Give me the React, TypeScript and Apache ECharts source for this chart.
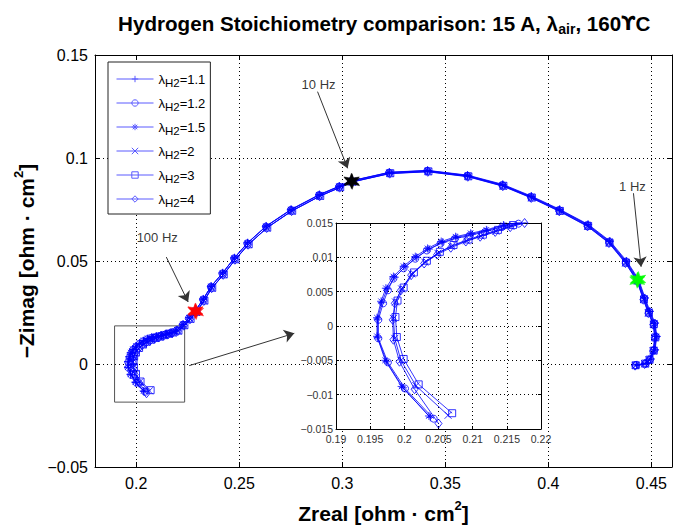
import React, { useEffect, useRef } from "react";
import * as echarts from "echarts";

// ---------- data ----------
const seriesNames = ["1.1", "1.2", "1.5", "2", "3", "4"];

const lambda11 = [
  [0.2038, -0.0133], [0.1998, -0.009], [0.1974, -0.0052], [0.1961, -0.0017], [0.1961, 0.001], [0.1967, 0.0034],
  [0.1975, 0.0054], [0.1986, 0.0071], [0.2001, 0.0086], [0.2018, 0.01], [0.2036, 0.0112], [0.2056, 0.0122],
  [0.2077, 0.0129], [0.2099, 0.0134], [0.2121, 0.0139], [0.2146, 0.0146], [0.217, 0.0152],
  [0.2198, 0.0166], [0.2228, 0.0193], [0.2258, 0.0225], [0.2288, 0.026], [0.2326, 0.0316], [0.2364, 0.0378],
  [0.242, 0.0443], [0.2477, 0.0516], [0.2541, 0.0589], [0.2631, 0.067], [0.2752, 0.0751], [0.2889, 0.0823],
  [0.2986, 0.0864], [0.3046, 0.089], [0.3229, 0.0931], [0.3414, 0.094], [0.3608, 0.0917], [0.3779, 0.0872],
  [0.3918, 0.0815], [0.4055, 0.0751], [0.4193, 0.0678], [0.4299, 0.0597], [0.438, 0.05], [0.4437, 0.0413],
  [0.4469, 0.0321], [0.4493, 0.0256], [0.4518, 0.0199], [0.4526, 0.0134], [0.4518, 0.0069], [0.4497, 0.0025],
  [0.4476, 0.0004], [0.443, -0.0004],
];
const lambda12 = [
  [0.2043, -0.0135], [0.2001, -0.0091], [0.1976, -0.0053], [0.1962, -0.0018], [0.1962, 0.0009], [0.1969, 0.0033],
  [0.1976, 0.0052], [0.1984, 0.0069], [0.1999, 0.0084], [0.2016, 0.0098], [0.2033, 0.011], [0.2053, 0.012],
  [0.2074, 0.0127], [0.2096, 0.0132], [0.2118, 0.0137], [0.2143, 0.0144], [0.2167, 0.0149],
  [0.2195, 0.0163], [0.2225, 0.019], [0.2255, 0.0222], [0.2286, 0.0257], [0.2324, 0.0313], [0.2362, 0.0375],
  [0.2418, 0.044], [0.2475, 0.0513], [0.2539, 0.0586], [0.2629, 0.0667], [0.275, 0.0748], [0.2887, 0.082],
  [0.2984, 0.0861], [0.3044, 0.0888], [0.3227, 0.0929], [0.3413, 0.0938], [0.3607, 0.0914], [0.3777, 0.0869],
  [0.3915, 0.0812], [0.4052, 0.0748], [0.419, 0.0675], [0.4295, 0.0594], [0.4376, 0.0497], [0.4433, 0.041],
  [0.4465, 0.0318], [0.4489, 0.0253], [0.4514, 0.0197], [0.4522, 0.0132], [0.4514, 0.0067], [0.4494, 0.0022],
  [0.4472, 0.0002], [0.4425, -0.0006],
];
const lambda15 = [
  [0.2036, -0.0131], [0.1996, -0.0088], [0.1972, -0.005], [0.196, -0.0015], [0.196, 0.0012], [0.1966, 0.0036],
  [0.1973, 0.0055], [0.1984, 0.0072], [0.1999, 0.0087], [0.2016, 0.0101], [0.2034, 0.0113], [0.2054, 0.0123],
  [0.2075, 0.013], [0.2097, 0.0135], [0.212, 0.014], [0.2145, 0.0147], [0.2169, 0.0151],
  [0.2197, 0.0165], [0.2227, 0.0192], [0.2257, 0.0224], [0.2287, 0.0259], [0.2325, 0.0314], [0.2363, 0.0376],
  [0.2419, 0.0441], [0.2476, 0.0514], [0.254, 0.0587], [0.263, 0.0668], [0.2751, 0.0749], [0.2888, 0.0821],
  [0.2985, 0.0862], [0.3045, 0.0889], [0.3228, 0.093], [0.3414, 0.0939], [0.3608, 0.0915], [0.3778, 0.087],
  [0.3917, 0.0813], [0.4054, 0.0749], [0.4192, 0.0676], [0.4297, 0.0595], [0.4378, 0.0498], [0.4435, 0.0411],
  [0.4467, 0.032], [0.4491, 0.0255], [0.4516, 0.0198], [0.4524, 0.0133], [0.4516, 0.0068], [0.4495, 0.0023],
  [0.4474, 0.0003], [0.4428, -0.0005],
];
const lambda2 = [
  [0.2064, -0.013], [0.2017, -0.0087], [0.1995, -0.005], [0.1986, -0.0018], [0.1984, 0.0011], [0.1987, 0.0035],
  [0.1996, 0.0054], [0.2011, 0.0076], [0.203, 0.0093], [0.2049, 0.0106], [0.2069, 0.0116], [0.2091, 0.0124],
  [0.2112, 0.0131], [0.2134, 0.0138], [0.2156, 0.0145], [0.2177, 0.0151],
  [0.2203, 0.0161], [0.2232, 0.0187], [0.2262, 0.0218], [0.2291, 0.0252], [0.2329, 0.0307], [0.2367, 0.0369],
  [0.2423, 0.0434], [0.248, 0.0507], [0.2544, 0.058], [0.2634, 0.0661], [0.2755, 0.0743], [0.2891, 0.0815],
  [0.2988, 0.0857], [0.3048, 0.0884], [0.3231, 0.0925], [0.3416, 0.0934], [0.361, 0.091], [0.378, 0.0864],
  [0.3918, 0.0807], [0.4054, 0.0742], [0.4191, 0.0669], [0.4295, 0.0588], [0.4375, 0.0491], [0.4431, 0.0404],
  [0.4462, 0.0313], [0.4486, 0.0248], [0.451, 0.0192], [0.4517, 0.0128], [0.4509, 0.0064], [0.4489, 0.002],
  [0.4468, 0.0001], [0.4422, -0.0007],
];
const lambda3 = [
  [0.207, -0.0127], [0.2021, -0.0085], [0.1999, -0.0048], [0.1989, -0.0016], [0.1987, 0.0013], [0.199, 0.0037],
  [0.1999, 0.0056], [0.2014, 0.0078], [0.2033, 0.0095], [0.2052, 0.0108], [0.2072, 0.0118], [0.2094, 0.0126],
  [0.2115, 0.0133], [0.2137, 0.014], [0.2159, 0.0147], [0.218, 0.0153],
  [0.2205, 0.0162], [0.2234, 0.0188], [0.2264, 0.0219], [0.2293, 0.0253], [0.2331, 0.0308], [0.2369, 0.037],
  [0.2425, 0.0435], [0.2482, 0.0508], [0.2546, 0.0581], [0.2636, 0.0662], [0.2757, 0.0744], [0.2893, 0.0816],
  [0.299, 0.0858], [0.305, 0.0885], [0.3233, 0.0926], [0.3418, 0.0935], [0.3612, 0.0911], [0.3782, 0.0865],
  [0.392, 0.0808], [0.4056, 0.0743], [0.4193, 0.067], [0.4297, 0.0589], [0.4377, 0.0492], [0.4433, 0.0405],
  [0.4464, 0.0314], [0.4488, 0.0249], [0.4512, 0.0193], [0.4519, 0.0129], [0.4511, 0.0065], [0.4491, 0.0021],
  [0.447, 0.0002], [0.4424, -0.0006],
];
const lambda4 = [
  [0.205, -0.0142], [0.2015, -0.0092], [0.1993, -0.0052], [0.1984, -0.002], [0.1983, 0.0009], [0.1986, 0.0033],
  [0.1995, 0.0052], [0.201, 0.0074], [0.2029, 0.0091], [0.2048, 0.0104], [0.2068, 0.0114], [0.209, 0.0123],
  [0.2111, 0.013], [0.2133, 0.0137], [0.2155, 0.0144], [0.2176, 0.015],
  [0.2202, 0.016], [0.2231, 0.0186], [0.2261, 0.0217], [0.229, 0.0251], [0.2328, 0.0306], [0.2366, 0.0368],
  [0.2422, 0.0433], [0.2479, 0.0506], [0.2543, 0.0579], [0.2633, 0.066], [0.2754, 0.0742], [0.289, 0.0814],
  [0.2987, 0.0856], [0.3047, 0.0883], [0.323, 0.0924], [0.3415, 0.0933], [0.3609, 0.0909], [0.3779, 0.0863],
  [0.3917, 0.0806], [0.4053, 0.0741], [0.419, 0.0668], [0.4294, 0.0587], [0.4374, 0.049], [0.443, 0.0403],
  [0.4461, 0.0312], [0.4485, 0.0247], [0.4509, 0.0191], [0.4516, 0.0127], [0.4508, 0.0063], [0.4488, 0.0019],
  [0.4467, 0.0], [0.4421, -0.0008],
];
const seriesData = [lambda11, lambda12, lambda15, lambda2, lambda3, lambda4];

// frequency markers (hexagram stars)
const stars100Hz = [[0.2286, 0.0257], [0.2291, 0.0252], [0.2288, 0.026]];
const stars10Hz = [[0.3044, 0.0888], [0.3048, 0.0884], [0.3046, 0.089]];
const stars1Hz = [[0.4433, 0.041], [0.4431, 0.0404], [0.4437, 0.0413]];

// annotation texts & arrows (data coords)
const annotationTexts = ["100 Hz", "10 Hz", "1 Hz"];
const annotationTextPos = [[0.2102, 0.0612], [0.2885, 0.1356], [0.4408, 0.0861]];
const annotationArrows = [
  [[0.2146, 0.0519], [0.2252, 0.0301]],
  [[0.288, 0.1322], [0.3026, 0.095]],
  [[0.4413, 0.0829], [0.445, 0.0472]],
];
const zoomArrow = [[0.2257, -0.0008], [0.2767, 0.0149]];
const zoomBox = [[0.1895, 0.0185], [0.2235, -0.0185]];

// axis extents
const mainX = [0.18, 0.46];
const mainY = [-0.05, 0.15];
const insetX = [0.19, 0.22];
const insetY = [-0.015, 0.015];

// ---------- styles ----------
const FONT = "'Liberation Sans', Arial, Helvetica, sans-serif";
const BLUE = "#0000ff";
const LEGEND_BLUE = "#5a5aff";
const MAIN = { left: 95, top: 55, width: 577, height: 412 };
const INSET = { left: 336, top: 223, width: 205, height: 206 };

const SYM_PLUS = "path://M5,0L5,10M0,5L10,5";
const SYM_STAR = "path://M5,0L5,10M0,5L10,5M1.5,1.5L8.5,8.5M8.5,1.5L1.5,8.5";
const SYM_X = "path://M0,0L10,10M10,0L0,10";
const SYM_HEX =
  "path://M50,0L60,32L93.3,25L70,50L93.3,75L60,68L50,100L40,68L6.7,75L30,50L6.7,25L40,32Z";
const symbols = [SYM_PLUS, "circle", SYM_STAR, SYM_X, "rect", "diamond"];
const symbolSizes = [8, 7, 8, 7, 7, [7, 9]];

const fmt = (v: number) => {
  const s = parseFloat(Number(v).toFixed(4)).toString();
  return s.replace("-", "\u2212");
};

function makeAxis(extra: any, labelSize: number, tickLen: number, showLabel: boolean, showSplit: boolean) {
  return {
    type: "value",
    axisLine: { show: true, onZero: false, lineStyle: { color: "#000", width: 1 } },
    axisTick: { show: true, inside: true, length: tickLen, lineStyle: { color: "#000", width: 1 } },
    axisLabel: {
      show: showLabel,
      fontFamily: FONT,
      fontSize: labelSize,
      color: "#000",
      formatter: fmt,
      showMinLabel: false,
      showMaxLabel: false,
    },
    splitLine: { show: showSplit, lineStyle: { color: "#000", width: 1, type: [1, 3] } },
    ...extra,
  };
}

const nameRich = {
  b: { fontFamily: FONT, fontSize: 21, fontWeight: "bold", color: "#000", lineHeight: 28 },
  sup: { fontFamily: FONT, fontSize: 13, fontWeight: "bold", color: "#000", lineHeight: 13, verticalAlign: "top" },
};

export default function App() {
  const ref = useRef<HTMLDivElement>(null);
  useEffect(() => {
    document.body.style.margin = "0";
    if (!ref.current) return;
    const chart = echarts.init(ref.current, undefined, { renderer: "svg" });

    const lineSeries: any[] = [];
    seriesNames.forEach((name, i) => {
      const common = {
        name,
        type: "line",
        data: seriesData[i],
        symbol: symbols[i],
        symbolSize: symbolSizes[i],
        showSymbol: true,
        lineStyle: { color: BLUE, width: 0.8 },
        itemStyle: { color: "none", borderColor: BLUE, borderWidth: 0.8 },
        emphasis: { disabled: true },
        silent: true,
        clip: true,
      };
      lineSeries.push({ ...common, xAxisIndex: 0, yAxisIndex: 0, z: 2 });
      lineSeries.push({ ...common, xAxisIndex: 2, yAxisIndex: 2, z: 11 });
    });

    const starSeries = (data: number[][], color: string, extra: any = {}) => ({
      type: "scatter",
      xAxisIndex: 0,
      yAxisIndex: 0,
      data,
      symbol: SYM_HEX,
      symbolSize: 15,
      itemStyle: { color, borderColor: color, borderWidth: 0.5 },
      z: 3,
      silent: true,
      ...extra,
    });

    const titleT = { fontFamily: FONT, fontSize: 20.6, fontWeight: "bold", color: "#000", lineHeight: 26 };
    const option: any = {
      animation: false,
      backgroundColor: "#fff",
      title: {
        text: "{t|Hydrogen Stoichiometry comparison: 15 A, \u03bb}{s|air}{t|, 160}{u|\u03d2}{t|C}",
        left: 379,
        textAlign: "center",
        top: 5,
        textStyle: {
          rich: {
            t: titleT,
            u: { ...titleT, fontFamily: "'DejaVu Sans', " + FONT, fontSize: 19 },
            s: { fontFamily: FONT, fontSize: 14, fontWeight: "bold", color: "#000", lineHeight: 14, verticalAlign: "bottom" },
          },
        },
      },
      legend: {
        data: seriesNames,
        orient: "vertical",
        left: 108,
        top: 62,
        padding: [7, 5, 5, 8],
        itemGap: 4,
        itemWidth: 37,
        itemHeight: 8,
        backgroundColor: "#fff",
        borderColor: "#222",
        borderWidth: 1,
        borderRadius: 0,
        selectedMode: false,
        lineStyle: { color: LEGEND_BLUE, width: 1 },
        itemStyle: { color: "rgba(0,0,0,0)", borderColor: LEGEND_BLUE, borderWidth: 1 },
        formatter: (name: string) => `{l|\u03bb}{s|H2}{n|=${name}}`,
        textStyle: {
          fontFamily: FONT,
          fontSize: 13,
          color: "#000",
          rich: {
            l: { fontFamily: FONT, fontSize: 13, color: "#000", lineHeight: 20 },
            s: {
              fontFamily: FONT, fontSize: 11.5, color: "#000", lineHeight: 10,
              verticalAlign: "bottom", padding: [8, 0, 0, 0],
            },
            n: { fontFamily: FONT, fontSize: 13, color: "#000", lineHeight: 20 },
          },
        },
      },
      grid: [
        { ...MAIN, outerBoundsMode: "none", containLabel: false },
        { ...INSET, outerBoundsMode: "none", containLabel: false },
      ],
      xAxis: [
        makeAxis(
          {
            gridIndex: 0,
            position: "bottom",
            min: mainX[0],
            max: mainX[1],
            splitNumber: 5,
            name: "{b|Zreal [ohm \u00b7 cm}{sup|2}{b|]}",
            nameLocation: "middle",
            nameGap: 32,
            nameTextStyle: { rich: nameRich },
            axisLabel: {
              show: true, fontFamily: FONT, fontSize: 16, color: "#000", formatter: fmt,
              showMinLabel: false, showMaxLabel: false, margin: 8,
            },
          },
          16, 5, true, true
        ),
        makeAxis({ gridIndex: 0, position: "top", min: mainX[0], max: mainX[1], splitNumber: 5 }, 15, 5, false, false),
        makeAxis(
          {
            gridIndex: 1, position: "bottom", min: insetX[0], max: insetX[1], interval: 0.005, z: 10,
            axisLabel: { show: true, fontFamily: FONT, fontSize: 10.5, color: "#333", formatter: fmt, margin: 4 },
          },
          10, 3, true, true
        ),
        makeAxis({ gridIndex: 1, position: "top", min: insetX[0], max: insetX[1], interval: 0.005, z: 10 }, 10, 3, false, false),
      ],
      yAxis: [
        makeAxis(
          {
            gridIndex: 0,
            position: "left",
            min: mainY[0],
            max: mainY[1],
            interval: 0.05,
            name: "{b|\u2212Zimag [ohm \u00b7 cm}{sup|2}{b|]}",
            nameLocation: "middle",
            nameGap: 51,
            nameTextStyle: { rich: nameRich },
            axisLabel: { show: true, fontFamily: FONT, fontSize: 16, color: "#000", formatter: fmt, margin: 7 },
          },
          16, 5, true, true
        ),
        makeAxis({ gridIndex: 0, position: "right", min: mainY[0], max: mainY[1], interval: 0.05 }, 15, 5, false, false),
        makeAxis(
          {
            gridIndex: 1, position: "left", min: insetY[0], max: insetY[1], interval: 0.005, z: 10,
            axisLabel: { show: true, fontFamily: FONT, fontSize: 10.5, color: "#333", formatter: fmt, margin: 3 },
          },
          10, 3, true, true
        ),
        makeAxis({ gridIndex: 1, position: "right", min: insetY[0], max: insetY[1], interval: 0.005, z: 10 }, 10, 3, false, false),
      ],
      graphic: [
        {
          type: "rect",
          z: 9,
          silent: true,
          shape: { x: INSET.left, y: INSET.top, width: INSET.width, height: INSET.height },
          style: { fill: "#fff" },
        },
      ],
      series: [
        ...lineSeries,
        starSeries(stars100Hz, "#ff0000", {
          markArea: {
            silent: true,
            itemStyle: { color: "rgba(0,0,0,0)", borderColor: "#555", borderWidth: 1 },
            label: { show: false },
            data: [[{ coord: zoomBox[0] }, { coord: zoomBox[1] }]],
          },
          markLine: {
            silent: true,
            symbol: ["none", "arrow"],
            symbolSize: 10,
            label: { show: false },
            lineStyle: { color: "#333", width: 1, type: "solid" },
            itemStyle: { color: "#111" },
            data: [
              ...annotationArrows.map((a) => [{ coord: a[0] }, { coord: a[1] }]),
              [{ coord: zoomArrow[0] }, { coord: zoomArrow[1] }],
            ],
          },
        }),
        starSeries(stars10Hz, "#000000"),
        starSeries(stars1Hz, "#00ff00"),
        {
          type: "scatter",
          xAxisIndex: 0,
          yAxisIndex: 0,
          silent: true,
          symbolSize: 1,
          itemStyle: { color: "rgba(0,0,0,0)" },
          data: annotationTexts.map((t, i) => ({ value: annotationTextPos[i], name: t })),
          label: {
            show: true,
            position: "inside",
            formatter: (p: any) => p.name,
            fontFamily: FONT,
            fontSize: 13,
            color: "#000",
          },
          z: 4,
        },
      ],
    };
    chart.setOption(option);
    return () => chart.dispose();
  }, []);
  return <div ref={ref} style={{ position: "absolute", left: 0, top: 0, width: 677, height: 528 }} />;
}
